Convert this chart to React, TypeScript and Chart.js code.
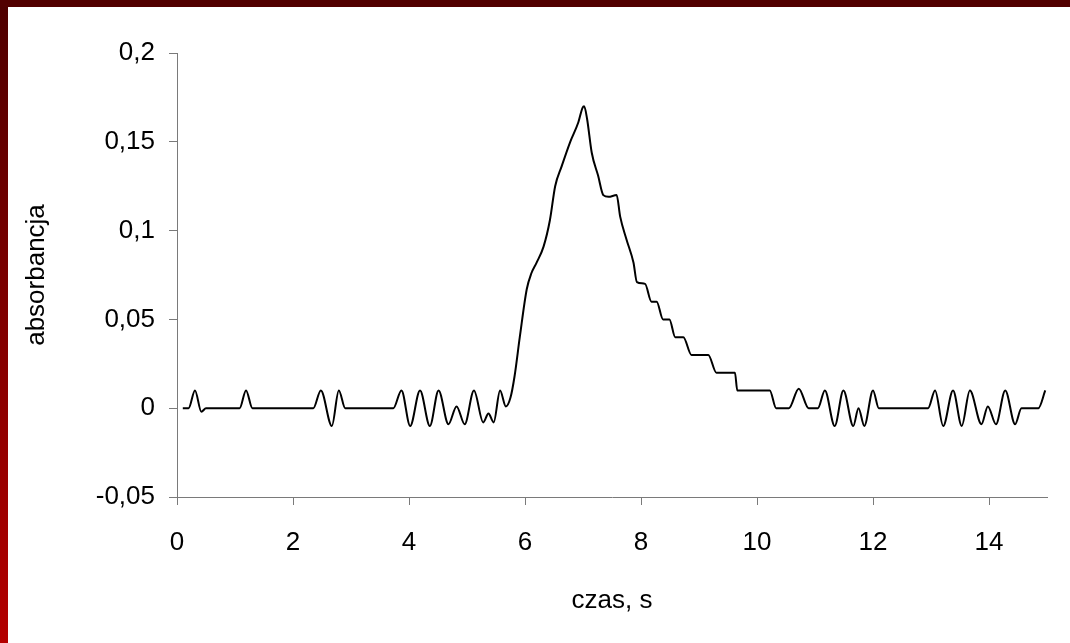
import React, { useEffect, useRef } from 'react';
import { Chart, registerables } from 'chart.js';

Chart.register(...registerables);

const timeS: number[] = [
  0.10, 0.20, 0.31, 0.42, 0.50, 1.08, 1.19, 1.30, 2.35, 2.48, 2.67, 2.79, 2.90,
  3.73, 3.87, 4.02, 4.19, 4.36, 4.51, 4.68, 4.82, 4.96, 5.12, 5.28, 5.37, 5.46,
  5.57, 5.67, 5.75, 5.82, 5.91, 6.03, 6.11, 6.20, 6.32, 6.43, 6.52, 6.63, 6.78,
  6.92, 6.99, 7.02, 7.07, 7.15, 7.26, 7.35, 7.44, 7.58, 7.64, 7.75, 7.87, 7.93,
  8.07, 8.18, 8.27, 8.38, 8.49, 8.59, 8.73, 8.87, 9.16, 9.30, 9.62, 9.66, 10.22,
  10.33, 10.55, 10.72, 10.89, 11.05, 11.17, 11.34, 11.49, 11.66, 11.75, 11.85,
  12.00, 12.10, 12.95, 13.07, 13.21, 13.38, 13.53, 13.67, 13.87, 13.98, 14.12,
  14.28, 14.45, 14.56, 14.85, 14.97,
];

const absorbance: number[] = [
  0, 0, 0.01, -0.002, 0, 0, 0.01, 0, 0, 0.01, -0.01, 0.01, 0,
  0, 0.01, -0.01, 0.01, -0.01, 0.01, -0.009, 0.001, -0.009, 0.01, -0.008, -0.003, -0.008,
  0.01, 0.001, 0.006, 0.018, 0.040, 0.067, 0.076, 0.082, 0.091, 0.106, 0.125, 0.136, 0.150,
  0.161, 0.169, 0.170, 0.163, 0.144, 0.131, 0.120, 0.119, 0.120, 0.108, 0.095, 0.082, 0.071,
  0.070, 0.060, 0.060, 0.050, 0.050, 0.040, 0.040, 0.030, 0.030, 0.020, 0.020, 0.010, 0.010,
  0, 0, 0.011, 0, 0, 0.01, -0.01, 0.01, -0.01, 0, -0.01,
  0.01, 0, 0, 0.01, -0.01, 0.01, -0.01, 0.01, -0.009, 0.001, -0.009,
  0.01, -0.009, 0, 0, 0.01,
];

const xTickValues: number[] = [0, 2, 4, 6, 8, 10, 12, 14];
const xTickLabels: string[] = ['0', '2', '4', '6', '8', '10', '12', '14'];
const yTickValues: number[] = [-0.05, 0, 0.05, 0.1, 0.15, 0.2];
const yTickLabels: string[] = ['-0,05', '0', '0,05', '0,1', '0,15', '0,2'];
const xTitle = 'czas, s';
const yTitle = 'absorbancja';

const W = 1070;
const H = 643;
const FONT = { family: "'Liberation Sans', Arial, sans-serif", size: 26 };
const AXIS_GRAY = '#7a7a7a';

export default function App() {
  const ref = useRef<HTMLCanvasElement | null>(null);

  useEffect(() => {
    document.body.style.margin = '0';
    const canvas = ref.current;
    if (!canvas) return;
    const chart = new Chart(canvas, {
      type: 'line',
      data: {
        datasets: [
          {
            data: timeS.map((t, i) => ({ x: t, y: absorbance[i] })),
            borderColor: '#000000',
            borderWidth: 2,
            pointRadius: 0,
            cubicInterpolationMode: 'monotone',
            fill: false,
          },
        ],
      },
      options: {
        responsive: false,
        animation: false,
        events: [],
        layout: { padding: { top: 53, right: 23, left: 0, bottom: 0 } },
        plugins: { legend: { display: false }, tooltip: { enabled: false } },
        scales: {
          x: {
            type: 'linear',
            min: 0,
            max: 15,
            afterBuildTicks: (s: any) => {
              s.ticks = xTickValues.map((v) => ({ value: v }));
            },
            afterFit: (s: any) => {
              s.height = 146;
            },
            grid: { drawOnChartArea: false, drawTicks: true, tickLength: 8, color: AXIS_GRAY },
            border: { color: AXIS_GRAY, width: 1 },
            ticks: {
              color: '#000',
              font: FONT,
              padding: 22,
              maxRotation: 0,
              autoSkip: false,
              callback: (_v: any, i: number) => xTickLabels[i],
            },
            title: { display: true, text: xTitle, color: '#000', font: FONT, padding: { top: 0, bottom: 27 } },
          },
          y: {
            type: 'linear',
            min: -0.05,
            max: 0.2,
            afterBuildTicks: (s: any) => {
              s.ticks = yTickValues.map((v) => ({ value: v }));
            },
            afterFit: (s: any) => {
              s.width = 177;
            },
            grid: { drawOnChartArea: false, drawTicks: true, tickLength: 8, color: AXIS_GRAY },
            border: { color: AXIS_GRAY, width: 1 },
            ticks: {
              color: '#000',
              font: FONT,
              padding: 14,
              autoSkip: false,
              callback: (_v: any, i: number) => yTickLabels[i],
            },
            title: { display: true, text: yTitle, color: '#000', font: FONT, padding: { top: 21, bottom: 0 } },
          },
        },
      },
    } as any);
    return () => chart.destroy();
  }, []);

  return (
    <div style={{ position: 'fixed', left: 0, top: 0, width: W, height: H, background: '#ffffff', overflow: 'hidden' }}>
      <div style={{ position: 'absolute', left: 0, top: 0, width: 8, height: H, background: 'linear-gradient(to bottom, #4e0000, #b40000)' }} />
      <div style={{ position: 'absolute', left: 0, top: 0, width: W, height: 7, background: '#520000' }} />
      <canvas ref={ref} width={W} height={H} style={{ position: 'absolute', left: 0, top: 0, width: W, height: H }} />
    </div>
  );
}
